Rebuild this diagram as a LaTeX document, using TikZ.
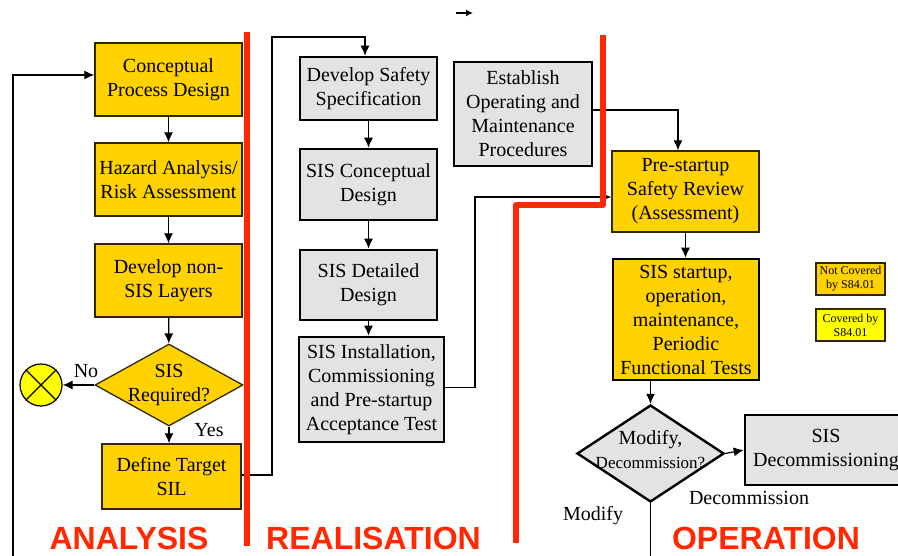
\documentclass[tikz,border=0pt]{standalone}
\usepackage{fontspec}
\setmainfont{Liberation Serif}
\newfontfamily\headfont{Liberation Sans}
\usetikzlibrary{shapes.geometric,arrows.meta}
\definecolor{gold}{RGB}{255,210,0}
\definecolor{lgray}{RGB}{227,227,227}
\definecolor{canary}{RGB}{255,255,0}
\definecolor{redline}{RGB}{255,40,0}
\definecolor{edgey}{RGB}{50,40,0}
\begin{document}
\begin{tikzpicture}[x=1pt,y=-1pt,
 ybox/.style={draw=edgey, line width=1.3pt, fill=gold, align=center, font=\fontsize{20}{24}\selectfont, inner sep=1pt},
 gbox/.style={draw=black, line width=2.6pt, fill=lgray, align=center, font=\fontsize{20}{24}\selectfont, inner sep=1pt},
 arr/.style={draw=black, line width=1.2pt, -{Latex[length=10pt,width=9pt]}},
 conn/.style={draw=black, line width=1.2pt},
 lbl/.style={font=\fontsize{20}{24}\selectfont, inner sep=0pt},
 phase/.style={font=\headfont\bfseries\fontsize{32}{36}\selectfont, text=redline, inner sep=0pt},
 legend/.style={draw=edgey, line width=1.3pt, align=center, font=\fontsize{12}{14}\selectfont, inner sep=0pt, minimum width=69pt, minimum height=32pt},
 redbar/.style={draw=redline, line width=6pt},
]
\clip (0,0) rectangle (898,556);
\fill[white] (0,0) rectangle (898,556);

% ANALYSIS column
\node[ybox, minimum width=147pt, minimum height=73pt] (cpd) at (168.5,79.5) {Conceptual\\Process Design};
\node[ybox, minimum width=147pt, minimum height=73pt] (hra) at (168.5,179.5) {Hazard Analysis/\\Risk Assessment};
\node[ybox, minimum width=147pt, minimum height=73pt] (dns) at (168.5,280.5) {Develop non-\\SIS Layers};
\node[diamond, draw=edgey, line width=1.3pt, fill=gold, minimum width=148pt, minimum height=82pt, inner sep=0pt,
      label={[lbl,align=center]center:{SIS\\Required?}}] (sisr) at (169,385) {};
\node[circle, draw=black, line width=1.2pt, fill=canary, minimum size=42pt, inner sep=0pt] (stop) at (41,385) {};
\draw[line width=1.2pt] (stop.45) -- (stop.225) (stop.135) -- (stop.315);
\node[ybox, minimum width=139pt, minimum height=65pt] (dts) at (171.5,476.5) {Define Target\\SIL};

% REALISATION column
\node[gbox, minimum width=137pt, minimum height=63pt] (dss) at (368.5,88.5) {Develop Safety\\Specification};
\node[gbox, minimum width=137pt, minimum height=71pt] (scd) at (368.5,184.5) {SIS Conceptual\\Design};
\node[gbox, minimum width=137pt, minimum height=70pt] (sdd) at (368.5,285) {SIS Detailed\\Design};
\node[gbox, minimum width=145pt, minimum height=105pt] (sit) at (371.5,389.5) {SIS Installation,\\Commissioning\\and Pre-startup\\Acceptance Test};
\node[gbox, minimum width=138pt, minimum height=104pt] (eomp) at (523,114) {Establish\\Operating and\\Maintenance\\Procedures};

% OPERATION column
\node[ybox, minimum width=147pt, minimum height=81pt] (psr) at (685.5,191.5) {Pre-startup\\Safety Review\\(Assessment)};
\node[ybox, draw=black, line width=2.6pt, minimum width=146pt, minimum height=121pt] (sso) at (686,319.5) {SIS startup,\\operation,\\maintenance,\\Periodic\\Functional Tests};
\node[diamond, draw=black, line width=2.4pt, fill=lgray, minimum width=147pt, minimum height=97pt, inner sep=0pt,
      label={[lbl,align=center,yshift=4pt]center:{Modify,\\\fontsize{17}{21}\selectfont Decommission?}}] (md) at (650.5,453.5) {};
\node[gbox, minimum width=162pt, minimum height=70pt] (sdc) at (826,450) {SIS\\Decommissioning};

% legend
\node[legend, fill=gold] (lnc) at (850.5,279) {Not Covered\\by S84.01};
\node[legend, fill=canary] (lc) at (850.5,325) {Covered by\\S84.01};

% labels
\node[lbl] (no) at (86,371) {No};
\node[lbl] (yes) at (209,430) {Yes};
\node[lbl] (dcl) at (749,498) {Decommission};
\node[lbl] (mdl) at (593,516) {Modify};

\node[phase] (pa) at (129,538) {ANALYSIS};
\node[phase] (pr) at (373.5,538) {REALISATION};
\node[phase] (po) at (766,538) {OPERATION};

% connectors
\draw[arr] (cpd) -- (hra);
\draw[arr] (hra) -- (dns);
\draw[arr] (dns) -- (sisr);
\draw[arr] (sisr.south) -- (sisr.south |- dts.north);
\draw[arr] (sisr.west) -- (stop.east);
\coordinate (loopin) at (13,560);
\draw[arr] (loopin) |- ([yshift=4.5pt]cpd.west);
\coordinate (up1) at (272,37);
\draw[arr] ([yshift=1.5pt]dts.east) -| (up1) -| ([xshift=-3.5pt]dss.north);
\draw[arr] (dss) -- (scd);
\draw[arr] (scd) -- (sdd);
\draw[arr] (sdd.south) -- (sdd.south |- sit.north);
\coordinate (up2) at (475,197);
\draw[arr] ([yshift=2pt]sit.east) -| (up2) -- ([yshift=-5.5pt]psr.west);
\draw[arr] ([yshift=4pt]eomp.east) -| ([xshift=-7.5pt]psr.north);
\draw[arr] (psr.south) -- (psr.south |- sso.north);
\draw[arr] (sso.south -| md.north) -- (md.north);
\draw[arr] (md.east) -- (sdc.west);
\coordinate (mdout) at (650.5,560);
\draw[conn] (md.south) -- (mdout);
\coordinate (sa) at (456,13);
\coordinate (sb) at (473,13);
\draw[draw=black, line width=1.2pt, -{Latex[length=7pt,width=7pt]}] (sa) -- (sb);

% phase separators
\draw[redbar] (247,32) -- (247,546);
\draw[redbar, line join=round] (603,35) -- (603,205) -- (516,205) -- (516,543);
\end{tikzpicture}
\end{document}
